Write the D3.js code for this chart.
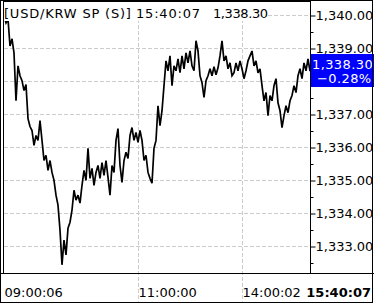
<!DOCTYPE html>
<html>
<head>
<meta charset="utf-8">
<script src="https://cdn.jsdelivr.net/npm/d3@7"></script>
<style>
  body { margin: 0; background: #fff; }
  text { font-family: "DejaVu Sans", sans-serif; font-size: 13px; }
</style>
</head>
<body>
<svg id="chart" width="374" height="305"></svg>
<script>
var prices = [
  1339.97, 1339.76, 1339.88, 1339.06, 1339.28, 1338.85, 1337.40, 1338.46, 1338.16, 1338.01,
  1337.71, 1337.89, 1336.86, 1336.62, 1336.50, 1336.05, 1336.35, 1336.20, 1336.80, 1336.20,
  1335.59, 1335.75, 1335.29, 1335.59, 1335.23, 1334.99, 1334.54, 1334.24, 1333.48, 1332.43,
  1333.18, 1332.73, 1333.54, 1333.72, 1334.09, 1334.69, 1334.39, 1334.54, 1334.30, 1334.84,
  1335.29, 1334.99, 1335.96, 1335.05, 1335.35, 1334.84, 1335.23, 1335.44, 1335.05, 1335.53,
  1335.14, 1335.59, 1335.08, 1334.54, 1335.44, 1335.23, 1336.20, 1336.56, 1335.44, 1334.93,
  1335.59, 1335.84, 1335.65, 1336.35, 1336.59, 1336.20, 1336.44, 1336.14, 1336.50, 1336.20,
  1335.59, 1335.75, 1335.23, 1335.05, 1334.90, 1335.96, 1336.20, 1337.25, 1336.65, 1337.10,
  1337.86, 1338.61, 1338.31, 1338.76, 1337.86, 1338.46, 1338.31, 1338.67, 1338.25, 1338.76,
  1338.37, 1338.85, 1338.55, 1338.91, 1338.46, 1338.31, 1339.22, 1338.91, 1338.16, 1337.95,
  1337.50, 1338.01, 1338.16, 1338.37, 1338.16, 1338.43, 1338.19, 1338.40, 1338.76, 1339.22,
  1338.61, 1338.76, 1338.37, 1338.55, 1338.16, 1338.25, 1338.55, 1338.31, 1338.61, 1338.37,
  1338.07, 1338.31, 1338.61, 1338.76, 1338.91, 1338.46, 1338.61, 1338.25, 1338.37, 1337.86,
  1337.40, 1337.65, 1336.95, 1337.56, 1337.40, 1337.86, 1338.07, 1337.34, 1337.10, 1336.59,
  1336.95, 1337.25, 1337.04, 1337.40, 1337.56, 1337.86, 1337.65, 1338.16, 1338.37, 1338.07,
  1338.55, 1338.31, 1338.67, 1338.30
];

var yTicks = [1333, 1334, 1335, 1336, 1337, 1338, 1339, 1340];
var yMinorTicks = [1332.5, 1333.5, 1334.5, 1335.5, 1336.5, 1337.5, 1338.5, 1339.5];
var yHiddenLabel = 1338; // sits under the last price box
var xTickIndex = [0, 67, 119];
var xTickLabels = ["09:00:06", "11:00:00", "14:00:02"];

var title = "[USD/KRW SP (S)]";
var lastTime = "15:40:07";
var lastPrice = 1338.30;
var changePct = -0.28;

var svg = d3.select("#chart");
var fmt = d3.format(",.2f");

var plotLeft = 4, plotRight = 310, plotTop = 1, plotBottom = 273;

var x = d3.scaleLinear().domain([0, prices.length - 1]).range([plotLeft, plotRight]);
var y = d3.scaleLinear().domain([1333, 1340]).range([246, 15]);

// grid
svg.append("g").selectAll("line")
    .data(yTicks)
    .enter().append("line")
    .attr("x1", plotLeft).attr("x2", plotRight)
    .attr("y1", function(d){ return Math.round(y(d)) + 0.5; })
    .attr("y2", function(d){ return Math.round(y(d)) + 0.5; })
    .attr("stroke", "#cccccc")
    .attr("stroke-dasharray", "4,2");

svg.append("g").selectAll("line")
    .data(xTickIndex.slice(1))
    .enter().append("line")
    .attr("x1", function(d){ return Math.round(x(d)) + 0.5; })
    .attr("x2", function(d){ return Math.round(x(d)) + 0.5; })
    .attr("y1", plotTop).attr("y2", 303)
    .attr("stroke", "#cccccc")
    .attr("stroke-dasharray", "4,2");

// price line
var line = d3.line()
    .x(function(d, i){ return x(i); })
    .y(function(d){ return y(d); });

svg.append("path")
    .datum(prices)
    .attr("d", line)
    .attr("fill", "none")
    .attr("stroke", "#000")
    .attr("stroke-width", 1.7)
    .attr("stroke-linejoin", "miter")
    .attr("stroke-miterlimit", 3);

// header (white behind the text, grid hidden there)
var hbg = svg.append("rect")
    .attr("fill", "#fff");
var header = svg.append("text")
    .attr("y", 18);
header.append("tspan").attr("x", 4).attr("letter-spacing", "0.8px").text(title);
header.append("tspan").attr("x", 136).attr("letter-spacing", "0.8px").text(lastTime);
header.append("tspan").attr("x", 213).attr("letter-spacing", "-0.4px").text(fmt(lastPrice));
var hb = header.node().getBBox();
hbg.attr("x", hb.x).attr("y", 2)
    .attr("width", hb.width).attr("height", 19);

// right axis
var yAxis = d3.axisRight(y)
    .tickValues(yTicks)
    .tickSize(5)
    .tickPadding(0)
    .tickFormat(function(d){ return d === yHiddenLabel ? "" : fmt(d); });
var yMinor = d3.axisRight(y)
    .tickValues(yMinorTicks)
    .tickSize(3)
    .tickFormat("");

var ga = svg.append("g").attr("transform", "translate(" + (plotRight + 0.5) + ",0.5)").call(yAxis);
ga.select(".domain").remove();
ga.selectAll("text")
    .attr("font-size", 13)
    .attr("font-family", "DejaVu Sans")
    .attr("fill", "#000");
var gm = svg.append("g").attr("transform", "translate(" + (plotRight + 0.5) + ",0.5)").call(yMinor);
gm.select(".domain").remove();

// last price box
svg.append("rect")
    .attr("x", plotRight).attr("y", 54)
    .attr("width", 64).attr("height", 33)
    .attr("fill", "#0000ff");
svg.append("text")
    .attr("x", 312).attr("y", 69)
    .attr("letter-spacing", "0.4px")
    .attr("fill", "#fff")
    .text(fmt(lastPrice));
svg.append("text")
    .attr("x", 317).attr("y", 83)
    .attr("letter-spacing", "0.4px")
    .attr("fill", "#fff")
    .text(d3.format(".2f")(changePct) + "%");

// x labels
svg.append("g").selectAll("text")
    .data(xTickIndex)
    .enter().append("text")
    .attr("x", function(d){ return x(d) + 0.5; })
    .attr("y", 297)
    .text(function(d, i){ return xTickLabels[i]; });

svg.append("text")
    .attr("x", 371).attr("y", 297)
    .attr("text-anchor", "end")
    .attr("font-weight", "bold")
    .text(lastTime);

// frames
svg.append("line")
    .attr("x1", plotLeft - 0.5).attr("x2", plotLeft - 0.5)
    .attr("y1", plotTop).attr("y2", plotBottom)
    .attr("stroke", "#000");
svg.append("line")
    .attr("x1", plotRight + 0.5).attr("x2", plotRight + 0.5)
    .attr("y1", 0).attr("y2", plotBottom)
    .attr("stroke", "#000");
svg.append("line")
    .attr("x1", plotLeft).attr("x2", plotRight)
    .attr("y1", 1.5).attr("y2", 1.5)
    .attr("stroke", "#000");
svg.append("line")
    .attr("x1", 0).attr("x2", 374)
    .attr("y1", plotBottom + 0.5).attr("y2", plotBottom + 0.5)
    .attr("stroke", "#000");
svg.append("rect")
    .attr("x", 0.5).attr("y", 0.5)
    .attr("width", 372).attr("height", 302)
    .attr("fill", "none")
    .attr("stroke", "#000");
</script>
</body>
</html>
